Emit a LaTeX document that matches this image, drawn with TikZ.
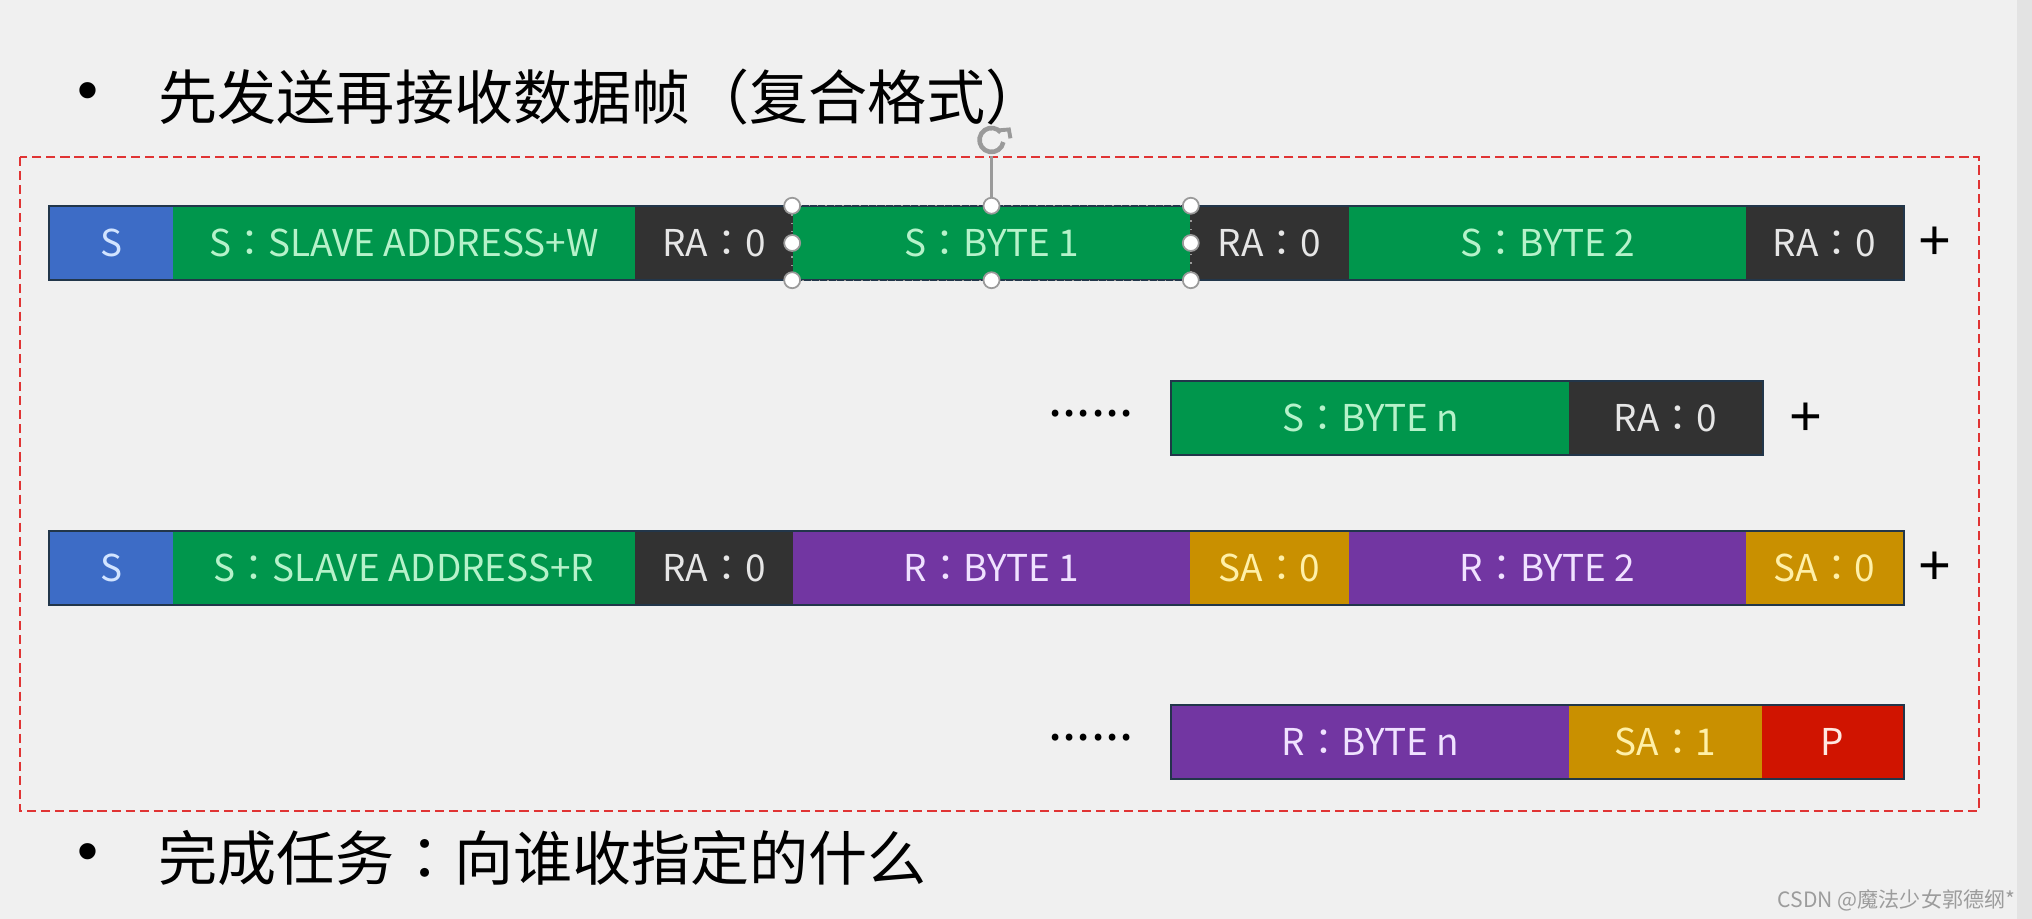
\documentclass[tikz,border=0pt]{standalone}
\usepackage{fontspec}
\setmainfont{Noto Sans CJK SC}
\newfontfamily\tcf{Noto Sans CJK TC}
\newfontfamily\latf{Liberation Sans}
\definecolor{bg}{HTML}{F0F0F0}
\definecolor{stripc}{HTML}{E3E3E3}
\definecolor{cblue}{HTML}{3D6CC6}
\definecolor{cgreen}{HTML}{00964C}
\definecolor{cdark}{HTML}{323232}
\definecolor{cpurple}{HTML}{7236A2}
\definecolor{corange}{HTML}{C99000}
\definecolor{cred}{HTML}{D01400}
\definecolor{tblue}{HTML}{D2E4FF}
\definecolor{tgreen}{HTML}{B6F2CA}
\definecolor{tdark}{HTML}{E6E6E6}
\definecolor{tpurple}{HTML}{F0E2FF}
\definecolor{torange}{HTML}{FFF0A8}
\definecolor{tred}{HTML}{FFE8E0}
\definecolor{rowline}{HTML}{22364A}
\definecolor{framered}{HTML}{E03434}
\definecolor{wmc}{HTML}{9C9C9C}
\definecolor{handle}{HTML}{9A9A9A}
\newcommand\mkseg[6]{\node[segbox,#5,minimum width={(#3-#2)*0.1mm}] (#1) at ({(#2+#3)/2},#4) {#6};}
\begin{document}
\begin{tikzpicture}[x=0.01cm,y=-0.01cm,
  segbox/.style={rectangle,inner sep=0pt,minimum height=7.3mm,font=\tcf\fontsize{10.5}{12}\selectfont},
  sblue/.style={fill=cblue,text=tblue},
  sgreen/.style={fill=cgreen,text=tgreen},
  sdark/.style={fill=cdark,text=tdark},
  spurple/.style={fill=cpurple,text=tpurple},
  sorange/.style={fill=corange,text=torange},
  sred/.style={fill=cred,text=tred},
  rowframe/.style={draw=rowline,line width=0.6pt},
  plussign/.style={font=\latf\fontsize{16}{18}\selectfont,text=black,inner sep=0pt},
  dotsign/.style={font=\fontsize{14.5}{16}\selectfont,text=black,inner sep=0pt},
  bul/.style={font=\latf\fontsize{17}{18}\selectfont,inner sep=0pt},
  heading/.style={anchor=west,font=\fontsize{16.8}{20}\selectfont,inner sep=0pt},
  hnd/.style={circle,fill=white,draw=handle,line width=0.5pt,minimum size=16*0.1mm,inner sep=0pt}
]
\fill[bg] (0,0) rectangle (2032,919);
\useasboundingbox (0,0) rectangle (2032,919);
\fill[stripc] (2017,0) rectangle (2032,919);

% headings
\node[bul] (bu1) at (88,97) {•};
\node[heading] (title) at (158,97) {先发送再接收数据帧（复合格式）};
\node[bul] (bu2) at (88,858) {•};
\node[heading] (task) at (158,858) {完成任务{\tcf ：}向谁收指定的什么};

% dashed frame
\draw[framered,line width=0.6pt,dash pattern=on 2.6pt off 1.4pt] (20,157) rectangle (1979,811);

% row 1
\mkseg{a1}{50}{173}{243}{sblue}{S}
\mkseg{a2}{173}{635}{243}{sgreen}{S：SLAVE ADDRESS+W}
\mkseg{a3}{635}{793}{243}{sdark}{RA：0}
\mkseg{a4}{793}{1190}{243}{sgreen}{S：BYTE 1}
\mkseg{a5}{1190}{1349}{243}{sdark}{RA：0}
\mkseg{a6}{1349}{1746}{243}{sgreen}{S：BYTE 2}
\mkseg{a7}{1746}{1903}{243}{sdark}{RA：0}
\draw[rowframe] (a1.north west) rectangle (a7.south east);
\node[plussign] (p1) at (1935,243) {+};

% row 2
\node[dotsign] (d1) at (1091,414) {......};
\mkseg{b1}{1172}{1569}{418}{sgreen}{S：BYTE n}
\mkseg{b2}{1569}{1762}{418}{sdark}{RA：0}
\draw[rowframe] (b1.north west) rectangle (b2.south east);
\node[plussign] (p2) at (1806,419) {+};

% row 3
\mkseg{c1}{50}{173}{568}{sblue}{S}
\mkseg{c2}{173}{635}{568}{sgreen}{S：SLAVE ADDRESS+R}
\mkseg{c3}{635}{793}{568}{sdark}{RA：0}
\mkseg{c4}{793}{1190}{568}{spurple}{R：BYTE 1}
\mkseg{c5}{1190}{1349}{568}{sorange}{SA：0}
\mkseg{c6}{1349}{1746}{568}{spurple}{R：BYTE 2}
\mkseg{c7}{1746}{1903}{568}{sorange}{SA：0}
\draw[rowframe] (c1.north west) rectangle (c7.south east);
\node[plussign] (p3) at (1935,568) {+};

% row 4
\node[dotsign] (d2) at (1091,738) {......};
\mkseg{e1}{1172}{1569}{742}{spurple}{R：BYTE n}
\mkseg{e2}{1569}{1762}{742}{sorange}{SA：1}
\mkseg{e3}{1762}{1903}{742}{sred}{P}
\draw[rowframe] (e1.north west) rectangle (e3.south east);

% selection handles on S:BYTE 1
\draw[handle,line width=0.4pt,dotted] (a4.north west) rectangle (a4.south east);
\node[circle,minimum size=30*0.1mm,inner sep=0pt] (rot) at (991.5,140) {};
\draw[handle,line width=0.6pt] (a4.north) -- (rot.south);
\draw[handle,line width=1.3pt] (rot.center) ++(10:12) arc[start angle=10,end angle=320,radius=12];
\draw[handle,line width=1.1pt] (rot.center) ++(-5:19) -- ++(-100:9) -- ++(175:10);
\foreach \a in {north west,north,north east,east,south east,south,south west,west}
  \node[hnd] at (a4.\a) {};

% watermark
\node[anchor=east,inner sep=0pt,text=wmc,font=\fontsize{6}{7}\selectfont] (wm) at (2016,900) {CSDN @魔法少女郭德纲*};
\end{tikzpicture}
\end{document}
